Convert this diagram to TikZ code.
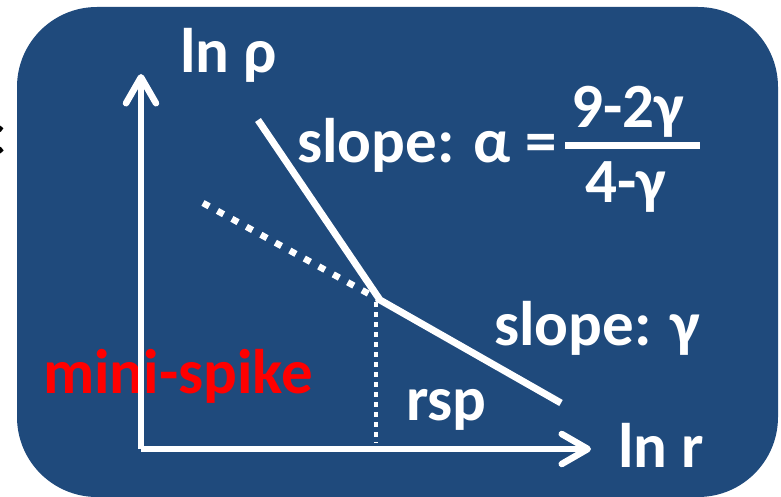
\documentclass[tikz,border=0pt]{standalone}
\usepackage{fontspec}
\setmainfont{Carlito}
\usetikzlibrary{arrows.meta,positioning}
\definecolor{PanelBlue}{RGB}{31,74,124}
\definecolor{SpikeRed}{RGB}{255,0,0}

\begin{document}
\begin{tikzpicture}[x=1pt,y=-1pt,
  axis/.style={white,line width=6.5pt,
    -{Straight Barb[length=26pt,width=30pt,line cap=round,round]}},
  branch/.style={white,line width=7pt},
  oldbranch/.style={white,line width=6.5pt,dash pattern=on 7pt off 9.5pt},
  guide/.style={white,line width=4.5pt,dash pattern=on 4.5pt off 5.5pt},
  lbl/.style={white,inner sep=0pt,anchor=base west,
    font=\fontsize{63}{63}\selectfont\bfseries}]
  \useasboundingbox (0,0) rectangle (781,497);
  \fill[PanelBlue,rounded corners=80pt] (17,7) rectangle (778,497);
  \node[lbl,black,anchor=base east] (cut) at (5,156) {c};

  % points of the broken power law
  \coordinate (O) at (141,449);
  \coordinate (ytip) at (141,74);
  \coordinate (xtip) at (591,449);
  \coordinate (steep) at (258,120);
  \coordinate (knee) at (380,300);
  \coordinate (flat) at (561,403);
  \coordinate (ext) at (203,203);
  \coordinate (foot) at (376,443);

  \node[lbl,SpikeRed] (spike) at (43,393) {mini-spike};

  \draw[axis] (O) -- (ytip);
  \draw[axis] (O) -- (xtip);
  \draw[branch,line cap=butt] (steep) -- (knee) -- (flat);
  \draw[oldbranch] (ext) -- (knee);
  \draw[guide] (knee) ++(-4,2) -- (foot);

  \node[lbl] (lnrho) at (180,73) {ln ρ};
  \node[lbl] (lnr) at (618,467) {ln r};
  \node[lbl] (slopeA) at (297,163) {slope: α =};
  \node[lbl] (num) at (571,128) {9-2γ};
  \node[lbl] (den) at (585,203) {4-γ};
  \draw[white,line width=7pt] (565,145.5) -- (700,145.5);
  \node[lbl] (slopeG) at (494,345) {slope: γ};
  \node[lbl] (rsp) at (406,420) {rsp};
\end{tikzpicture}
\end{document}
